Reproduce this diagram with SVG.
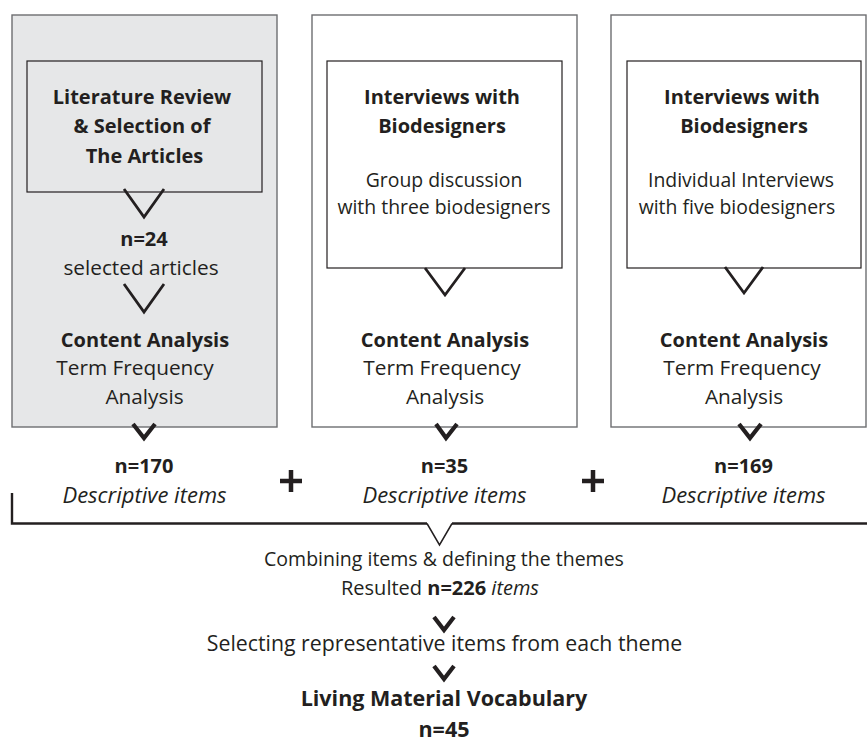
<svg xmlns="http://www.w3.org/2000/svg" width="867" height="744" viewBox="0 0 867 744">
<style>
text{font-family:"Open Sans","Noto Sans","Liberation Sans",sans-serif;font-size:20px;fill:#231f20;text-anchor:middle}
.b{font-weight:bold}
.i{font-style:italic}
.d{font-size:19.4px}
.t{font-size:20.8px}
.di{font-style:italic;font-size:22px}
.big{font-size:21.5px}
.outer{stroke:#6d6e71;stroke-width:1.4}
.inner{fill:none;stroke:#231f20;stroke-width:1.2}
.chev{fill:none;stroke:#231f20;stroke-width:2.8;stroke-linejoin:miter}
.chevs{fill:none;stroke:#231f20;stroke-width:4.2;stroke-linejoin:miter}
.plus{stroke:#231f20;stroke-width:4.5}
</style>
<rect width="867" height="744" fill="#fff"/>
<g id="col1">
<rect class="outer" x="12" y="15" width="265" height="412" fill="#e6e7e8"/>
<rect class="inner" x="27" y="61" width="235" height="131"/>
<text class="b" x="142" y="104">Literature Review</text>
<text class="b" x="142" y="133">&amp; Selection of</text>
<text class="b" x="144.5" y="163">The Articles</text>
<text class="b" x="144" y="246">n=24</text>
<text class="t" x="141" y="275">selected articles</text>
<text class="b" x="145" y="347">Content Analysis</text>
<text class="t" x="135" y="375">Term Frequency</text>
<text class="t" x="144.5" y="404">Analysis</text>
</g>
<g id="col2">
<rect class="outer" x="312" y="15" width="265" height="412" fill="#fff"/>
<rect class="inner" x="327" y="61" width="235" height="207"/>
<text class="b" x="442" y="104">Interviews with</text>
<text class="b" x="442" y="133">Biodesigners</text>
<text class="d" x="444" y="187">Group discussion</text>
<text class="d" x="444" y="214">with three biodesigners</text>
<text class="b" x="445" y="347">Content Analysis</text>
<text class="t" x="442" y="375">Term Frequency</text>
<text class="t" x="445" y="404">Analysis</text>
</g>
<g id="col3">
<rect class="outer" x="611" y="15" width="255" height="412" fill="#fff"/>
<rect class="inner" x="627" y="61" width="234" height="207"/>
<text class="b" x="742" y="104">Interviews with</text>
<text class="b" x="744" y="133">Biodesigners</text>
<text class="d" x="741" y="187">Individual Interviews</text>
<text class="d" x="737" y="214">with five biodesigners</text>
<text class="b" x="744" y="347">Content Analysis</text>
<text class="t" x="742" y="375">Term Frequency</text>
<text class="t" x="744" y="404">Analysis</text>
</g>
<g id="results">
<text class="b" x="144" y="473">n=170</text>
<text class="di" x="144.5" y="503">Descriptive items</text>
<text class="b" x="444.5" y="473">n=35</text>
<text class="di" x="444.5" y="503">Descriptive items</text>
<text class="b" x="743.5" y="473">n=169</text>
<text class="di" x="743.5" y="503">Descriptive items</text>
<path class="plus" d="M280 481H302M291 470V492"/>
<path class="plus" d="M582 481H604M593 470V492"/>
</g>
<g id="combine">
<text x="444" y="566" style="font-size:19.5px">Combining items &amp; defining the themes</text>
<text x="440" y="595">Resulted <tspan class="b">n=226</tspan> <tspan class="i">items</tspan></text>
</g>
<g id="select">
<text x="444.5" y="651" style="font-size:21.3px">Selecting representative items from each theme</text>
</g>
<g id="vocab">
<text class="b big" x="444" y="706">Living Material Vocabulary</text>
<text class="b big" x="444" y="737">n=45</text>
</g>
<g id="connectors">
<path class="chev" d="M124 189L144 217L164 189"/>
<path class="chev" d="M124 284L144 312L164 284"/>
<path class="chev" d="M425 268L445 295L465 268"/>
<path class="chev" d="M725 267L744 293L763 267"/>
<path class="chevs" d="M133 424L144 438L155 424"/>
<path class="chevs" d="M436 424L446 438L457 424"/>
<path class="chevs" d="M739 424L750 438L761 424"/>
<path fill="none" stroke="#231f20" stroke-width="2.4" d="M12 493V523.5H427"/>
<path fill="none" stroke="#231f20" stroke-width="2.4" d="M452 523.5H867"/>
<path fill="none" stroke="#231f20" stroke-width="1.5" d="M427 523.5L439.5 545L452 523.5"/>
<path class="chevs" d="M434 617L444 630L454 617" stroke-width="3.6"/>
<path class="chevs" d="M434 666L444 679L454 666" stroke-width="3.6"/>
</g>
</svg>
